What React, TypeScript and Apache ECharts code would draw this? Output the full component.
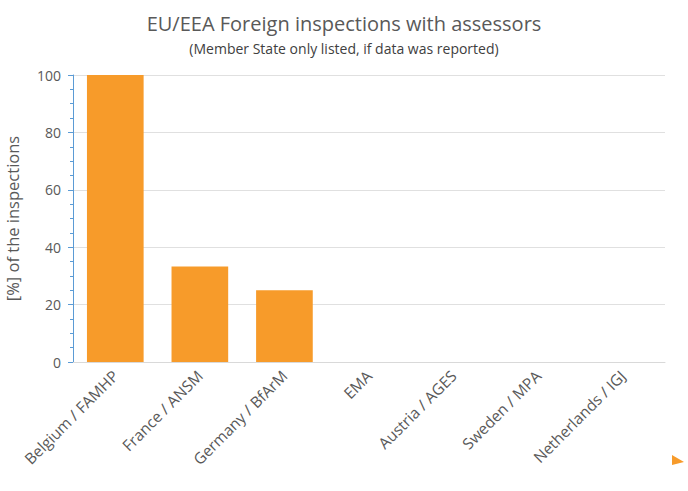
import React, { useEffect, useRef } from "react";
import * as echarts from "echarts";

const categories = [
  "Belgium / FAMHP",
  "France / ANSM",
  "Germany / BfArM",
  "EMA",
  "Austria / AGES",
  "Sweden / MPA",
  "Netherlands / IGJ",
];
const values = [100, 33.3, 25, 0, 0, 0, 0];
const titleText = "EU/EEA Foreign inspections with assessors";
const subtitleText = "(Member State only listed, if data was reported)";
const yAxisName = "[%] of the inspections";

export default function App() {
  const ref = useRef<HTMLDivElement>(null);
  useEffect(() => {
    if (!ref.current) return;
    const chart = echarts.init(ref.current, undefined, { renderer: "svg" });
    const font = "Open Sans";
    chart.setOption({
      animation: false,
      backgroundColor: "#ffffff",
      title: {
        text: titleText,
        subtext: subtitleText,
        left: "center",
        top: 8,
        itemGap: 8,
        textStyle: { fontFamily: font, fontSize: 20, fontWeight: "normal", color: "#595959" },
        subtextStyle: { fontFamily: font, fontSize: 14, color: "#404040" },
      },
      grid: {
        left: 73,
        right: 23,
        top: 75,
        bottom: 129,
        containLabel: false,
        outerBoundsMode: "none",
      },
      xAxis: {
        type: "category",
        data: categories,
        axisLine: { lineStyle: { color: "#d9d9d9" } },
        axisTick: { show: false },
        axisLabel: {
          rotate: 45,
          fontFamily: font,
          fontSize: 15.5,
          color: "#595959",
          margin: 11,
          interval: 0,
        },
      },
      yAxis: {
        type: "value",
        min: 0,
        max: 100,
        interval: 20,
        name: yAxisName,
        nameLocation: "middle",
        nameGap: 52,
        nameRotate: 90,
        nameTextStyle: { fontFamily: font, fontSize: 16.5, color: "#595959", lineHeight: 18 },
        axisLine: { show: true, lineStyle: { color: "#5b9bd5" } },
        axisTick: { show: true, length: 5, lineStyle: { color: "#5b9bd5" } },
        minorTick: { show: true, splitNumber: 4, length: 3, lineStyle: { color: "#5b9bd5" } },
        splitLine: { show: true, lineStyle: { color: "#e0e0e0" } },
        axisLabel: { fontFamily: font, fontSize: 14, color: "#595959", margin: 12 },
      },
      series: [
        {
          type: "bar",
          data: values,
          barCategoryGap: "33%",
          itemStyle: { color: "#f79b2a" },
        },
      ],
      graphic: [
        {
          type: "polygon",
          shape: { points: [[672, 455], [684, 462], [672, 465]] },
          style: { fill: "#f79b2a" },
        },
      ],
    });
    return () => chart.dispose();
  }, []);
  return (
    <div
      ref={ref}
      style={{ position: "fixed", left: 0, top: 0, width: 688, height: 491 }}
    />
  );
}
